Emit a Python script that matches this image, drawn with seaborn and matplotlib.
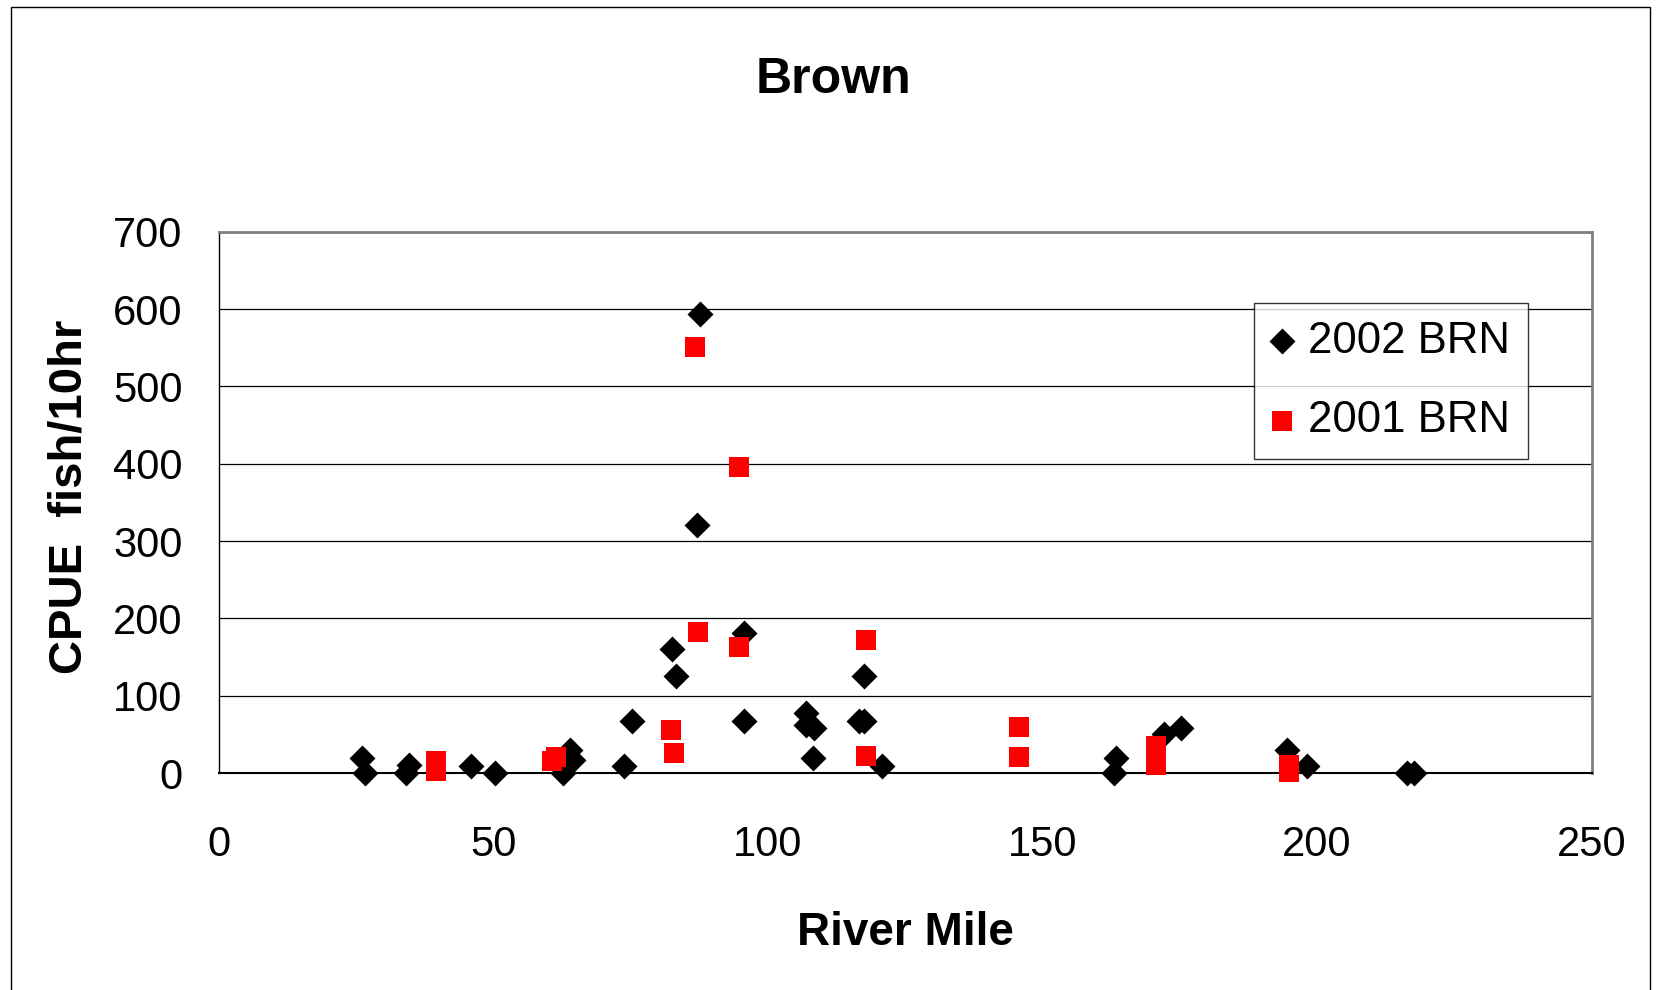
import matplotlib
matplotlib.use("Agg")
import matplotlib.pyplot as plt
import seaborn as sns
import pandas as pd
from matplotlib.patches import Rectangle

# ---- data ----
miles_2002 = [26.0, 26.6, 34.1, 34.7, 45.9, 50.3, 62.7, 63.9, 64.5, 73.8, 75.2,
              82.6, 83.2, 87.6, 87.0, 95.7, 95.7, 106.9, 106.9, 108.3, 108.2,
              116.5, 117.5, 117.5, 120.7, 163.4, 163.0, 172.2, 175.3, 194.6,
              198.1, 216.4, 217.7]
cpue_2002 = [19, 0, 0, 10, 9, 0, 0, 30, 17, 9, 68,
             160, 126, 593, 321, 181, 68, 78, 62, 58, 19,
             68, 68, 126, 9, 19, 0, 51, 58, 30,
             9, 0, 0]

miles_2001 = [39.5, 39.5, 60.6, 61.4, 82.3, 82.9, 86.7, 87.3, 94.8, 94.8,
              117.8, 117.8, 145.8, 145.8, 170.7, 170.7, 194.8, 194.8]
cpue_2001 = [16, 3, 16, 21, 56, 26, 551, 182, 396, 163,
             172, 22, 60, 21, 35, 11, 10, 2]

series_names = ["2002 BRN", "2001 BRN"]
x_ticks = [0, 50, 100, 150, 200, 250]
y_ticks = [0, 100, 200, 300, 400, 500, 600, 700]

df = pd.DataFrame({
    "River Mile": miles_2002 + miles_2001,
    "CPUE": cpue_2002 + cpue_2001,
    "Series": [series_names[0]] * len(miles_2002) + [series_names[1]] * len(miles_2001),
})

sns.set_theme(style="white")
plt.rcParams["font.family"] = ["Liberation Sans", "DejaVu Sans"]
plt.rcParams["text.color"] = "black"
plt.rcParams["axes.labelcolor"] = "black"
plt.rcParams["xtick.color"] = "black"
plt.rcParams["ytick.color"] = "black"

fig = plt.figure(figsize=(16.58, 9.9), dpi=100)
ax = fig.add_axes([0.132, 0.219, 0.828, 0.547])

d02 = df[df["Series"] == series_names[0]]
d01 = df[df["Series"] == series_names[1]]
sns.scatterplot(data=d02, x="River Mile", y="CPUE", marker="D", color="black",
                s=175, linewidth=0, ax=ax, label=series_names[0], zorder=3,
                clip_on=False)
sns.scatterplot(data=d01, x="River Mile", y="CPUE", marker="s", color="#ff0000",
                s=215, linewidth=0, ax=ax, label=series_names[1], zorder=4,
                clip_on=False)

ax.set_xlim(0, 250)
ax.set_ylim(0, 700)
ax.set_xticks(x_ticks)
ax.set_yticks(y_ticks)
ax.tick_params(axis="both", labelsize=30, length=9, width=1, color="black",
               labelcolor="black", direction="out")
ax.tick_params(axis="y", pad=17)
ax.tick_params(axis="x", pad=28)
ax.yaxis.grid(True, color="black", linewidth=0.9)
ax.xaxis.grid(False)
ax.set_axisbelow(True)

for side in ["top", "right"]:
    ax.spines[side].set_color("#808080")
    ax.spines[side].set_linewidth(2)
ax.spines["left"].set_color("black")
ax.spines["left"].set_linewidth(1)
ax.spines["bottom"].set_color("black")
ax.spines["bottom"].set_linewidth(1.5)

ax.set_xlabel("River Mile", fontsize=33, fontweight="bold", color="black")
ax.set_ylabel("CPUE  fish/10hr", fontsize=34, fontweight="bold", color="black")
ax.xaxis.set_label_coords(0.5, -0.255)
ax.yaxis.set_label_coords(-0.093, 0.51)

fig.text(0.5025, 0.919, "Brown", fontsize=36, fontweight="bold",
         ha="center", va="center", color="black")

leg = ax.legend(loc="upper left", bbox_to_anchor=(0.754, 0.868), fontsize=31.5,
                frameon=True, fancybox=False, edgecolor="black",
                borderaxespad=0, handletextpad=0.34, labelspacing=0.88,
                borderpad=0.4, handlelength=0.5, markerscale=1.0)
leg.get_frame().set_linewidth(1)

fig.patches.append(Rectangle((0.0064, -0.01), 0.9886, 1.0025,
                             transform=fig.transFigure, fill=False,
                             edgecolor="black", linewidth=1))

fig.savefig("out.png", dpi=100, facecolor="white")
